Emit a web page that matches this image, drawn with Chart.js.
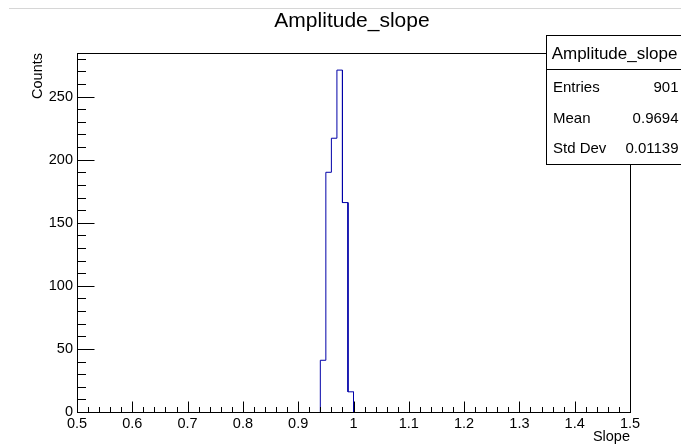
<!DOCTYPE html>
<html>
<head>
<meta charset="utf-8">
<script src="https://cdn.jsdelivr.net/npm/chart.js@4/dist/chart.umd.min.js"></script>
<style>
  html, body { margin: 0; padding: 0; background: #fff; overflow: hidden; }
  canvas { display: block; }
</style>
</head>
<body>
<canvas id="c" width="681" height="446"></canvas>
<script>
// Histogram contents
const histTitle = 'Amplitude_slope';
const binLowEdges = [0.94, 0.95, 0.96, 0.97, 0.98, 0.99];
const binCounts = [41, 190, 217, 271, 166, 16];
const binWidth = 0.01;
const xMin = 0.5, xMax = 1.5;
const yMaxValue = 284.55;
const xTickLabels = ['0.5', '0.6', '0.7', '0.8', '0.9', '1', '1.1', '1.2', '1.3', '1.4', '1.5'];
const yTickLabels = ['0', '50', '100', '150', '200', '250'];
const statNames = ['Entries', 'Mean', 'Std Dev'];
const statValues = ['901', '0.9694', '0.01139'];
const xTitle = 'Slope';
const yTitle = 'Counts';

const FONT = "'Liberation Sans', Arial, Helvetica, sans-serif";

// Outline of the histogram: a flat top over every bin, joined by verticals
const outline = [{ x: binLowEdges[0], y: 0 }];
binLowEdges.forEach((lo, i) => {
  outline.push({ x: lo, y: binCounts[i] });
  outline.push({ x: lo + binWidth, y: binCounts[i] });
});
outline.push({ x: binLowEdges[binLowEdges.length - 1] + binWidth, y: 0 });

const xMajor = xTickLabels.map(Number);
const yMajor = yTickLabels.map(Number);

// Frame, inward tick marks, title, stats box
const decorations = {
  id: 'decorations',
  beforeDraw(chart) {
    const ctx = chart.ctx;
    ctx.save();
    ctx.fillStyle = '#fff';
    ctx.fillRect(0, 0, chart.width, chart.height);
    ctx.strokeStyle = '#d6d6d6';
    ctx.lineWidth = 1;
    ctx.beginPath();
    ctx.moveTo(9, 8.5);
    ctx.lineTo(chart.width, 8.5);
    ctx.stroke();
    ctx.restore();
  },
  afterDraw(chart) {
    const ctx = chart.ctx;
    const a = chart.chartArea;
    const xs = chart.scales.x, ys = chart.scales.y;
    const L = Math.round(a.left) + 0.5, R = Math.round(a.right) + 0.5;
    const T = Math.round(a.top) + 0.5, B = Math.round(a.bottom) + 0.5;
    ctx.save();
    ctx.strokeStyle = '#000';
    ctx.lineWidth = 1;
    ctx.strokeRect(L, T, R - L, B - T);

    ctx.beginPath();
    // x ticks: majors every 0.1, minors every 0.02
    for (let i = 0; i < xMajor.length; i++) {
      const v0 = xMajor[i];
      const px = Math.round(xs.getPixelForValue(v0)) + 0.5;
      ctx.moveTo(px, B); ctx.lineTo(px, B - 11);
      if (i < xMajor.length - 1) {
        for (let k = 1; k < 5; k++) {
          const pm = Math.round(xs.getPixelForValue(v0 + k * 0.02)) + 0.5;
          ctx.moveTo(pm, B); ctx.lineTo(pm, B - 5.5);
        }
      }
    }
    // y ticks: majors every 50, minors every 10
    for (let v = 0; v <= yMaxValue; v += 10) {
      const py = Math.round(ys.getPixelForValue(v)) + 0.5;
      const len = (v % 50 === 0) ? 17 : 8.5;
      ctx.moveTo(L, py); ctx.lineTo(L + len, py);
    }
    ctx.stroke();

    // Title
    ctx.fillStyle = '#000';
    ctx.font = '21px ' + FONT;
    ctx.textAlign = 'center';
    ctx.textBaseline = 'alphabetic';
    ctx.fillText(histTitle, 352, 27);

    // Stats box
    const bx = 546.5, by = 35.5, bw = chart.width - bx + 2, bh = 129;
    ctx.fillStyle = '#fff';
    ctx.fillRect(bx, by, bw, bh);
    ctx.strokeRect(bx, by, bw, bh);
    ctx.beginPath();
    ctx.moveTo(bx, 69.5); ctx.lineTo(chart.width, 69.5);
    ctx.stroke();
    ctx.fillStyle = '#000';
    ctx.font = '17px ' + FONT;
    ctx.textAlign = 'center';
    ctx.fillText(histTitle, 614.5, 58.5);
    ctx.font = '15px ' + FONT;
    const rowBase = [91.5, 123, 153];
    statNames.forEach((n, i) => {
      ctx.textAlign = 'left';
      ctx.fillText(n, 553, rowBase[i]);
      ctx.textAlign = 'right';
      ctx.fillText(statValues[i], 678.5, rowBase[i]);
    });
    ctx.restore();
  }
};

new Chart(document.getElementById('c'), {
  type: 'line',
  data: {
    datasets: [{
      data: outline,
      borderColor: '#0000a8',
      borderWidth: 1,
      pointRadius: 0,
      tension: 0,
      fill: false
    }]
  },
  options: {
    responsive: false,
    animation: false,
    devicePixelRatio: 1,
    layout: { padding: { top: 53, right: 51, left: 0, bottom: 0 } },
    plugins: {
      legend: { display: false },
      tooltip: { enabled: false },
      title: { display: false }
    },
    scales: {
      x: {
        type: 'linear',
        min: xMin,
        max: xMax,
        afterFit(s) { s.height = 34; },
        afterBuildTicks(s) { s.ticks = xMajor.map(v => ({ value: v })); },
        grid: { display: false, drawTicks: false, tickLength: 0 },
        border: { display: false },
        ticks: {
          color: '#000',
          font: { family: FONT, size: 14.5 },
          padding: 3.5,
          maxRotation: 0,
          autoSkip: false,
          callback: (v) => xTickLabels[xMajor.findIndex(m => Math.abs(m - v) < 1e-9)]
        },
        title: {
          display: true,
          text: xTitle,
          align: 'end',
          color: '#000',
          font: { family: FONT, size: 14.5 },
          padding: { top: 0, bottom: 0.8 }
        }
      },
      y: {
        type: 'linear',
        min: 0,
        max: yMaxValue,
        afterFit(s) { s.width = 77; },
        afterBuildTicks(s) { s.ticks = yMajor.map(v => ({ value: v })); },
        grid: { display: false, drawTicks: false, tickLength: 0 },
        border: { display: false },
        ticks: {
          color: '#000',
          font: { family: FONT, size: 14.5 },
          padding: 4,
          autoSkip: false,
          callback: (v) => yTickLabels[yMajor.indexOf(v)]
        },
        title: {
          display: true,
          text: yTitle,
          align: 'end',
          color: '#000',
          font: { family: FONT, size: 14.5 },
          padding: { top: 29.6, bottom: 0 }
        }
      }
    }
  },
  plugins: [decorations]
});
</script>
</body>
</html>
